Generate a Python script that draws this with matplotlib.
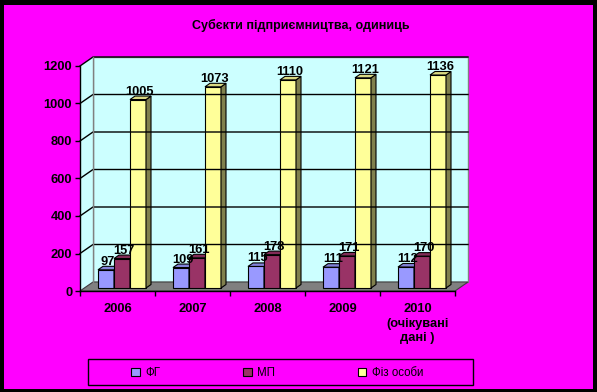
import numpy as np
import matplotlib
matplotlib.use('Agg')
import matplotlib.pyplot as plt
from matplotlib.patches import Rectangle, Polygon, Patch
from matplotlib.lines import Line2D
from matplotlib.transforms import ScaledTranslation, IdentityTransform

plt.rcParams['font.family'] = ['Liberation Sans', 'DejaVu Sans']

# дані
years = ['2006', '2007', '2008', '2009', '2010\n(очікувані\nдані )']
fg = [97, 109, 115, 111, 112]
mp = [157, 161, 178, 171, 170]
fiz = [1005, 1073, 1110, 1121, 1136]
names = ['ФГ', 'МП', 'Фіз особи']
colors = ['#9999FF', '#993366', '#FFFF99']
yticks = [0, 200, 400, 600, 800, 1000, 1200]

W, H = 597, 392
fig = plt.figure(figsize=(W / 100, H / 100), dpi=100, facecolor='black')
fig.add_artist(Rectangle((4 / W, 3 / H), 589 / W, 384 / H, transform=fig.transFigure,
                         facecolor='#FF00FF', edgecolor='none', zorder=-5))

ax = fig.add_axes([80 / W, (H - 291) / H, 375 / W, 225 / H])
ax.set_xlim(-0.5, 4.5)
ax.set_ylim(0, 1200)
ax.patch.set_visible(False)
for s in ['top', 'right']:
    ax.spines[s].set_visible(False)
for s in ['left', 'bottom']:
    ax.spines[s].set_color('black')
    ax.spines[s].set_linewidth(1)
    ax.spines[s].set_zorder(10)

ax.set_yticks(yticks)
ax.set_yticklabels([str(t) for t in yticks], fontsize=9.3, fontweight='bold')
ax.tick_params(axis='y', length=3.6, pad=2, width=1)
ax.set_xticks(np.arange(-0.5, 5, 1))
ax.set_xticklabels([])
ax.set_xticks(range(5), minor=True)
ax.set_xticklabels(years, minor=True, fontsize=9.3, fontweight='bold', linespacing=1.25)
ax.tick_params(axis='x', which='major', length=3.6, width=1)
ax.tick_params(axis='x', which='minor', length=0, pad=9)


def px(x, y, dx=0, dy=0):
    X, Y = ax.transData.transform((x, y))
    return (X + dx, Y + dy)


ident = IdentityTransform()
DX, DY = 13, 9
wall = '#CCFFFF'

# стінки і підлога
ax.add_patch(Polygon([px(-0.5, 0, DX, DY), px(4.5, 0, DX, DY), px(4.5, 1200, DX, DY),
                      px(-0.5, 1200, DX, DY)], closed=True, transform=ident,
                     facecolor=wall, edgecolor='#808080', lw=1, clip_on=False))
ax.add_patch(Polygon([px(-0.5, 0), px(-0.5, 0, DX, DY), px(-0.5, 1200, DX, DY),
                      px(-0.5, 1200)], closed=True, transform=ident,
                     facecolor=wall, edgecolor='none', clip_on=False))
for t in yticks[1:]:
    pts = [px(-0.5, t), px(-0.5, t, DX, DY), px(4.5, t, DX, DY)]
    ax.add_line(Line2D([p[0] for p in pts], [p[1] for p in pts], transform=ident,
                       color='black', lw=1, clip_on=False))
p0, p1 = px(-0.5, 0, DX, DY), px(-0.5, 1200, DX, DY)
ax.add_line(Line2D([p0[0], p1[0]], [p0[1], p1[1]], transform=ident,
                   color='#808080', lw=1, clip_on=False))
ax.add_patch(Polygon([px(-0.5, 0), px(4.5, 0), px(4.5, 0, DX, DY), px(-0.5, 0, DX, DY)],
                     closed=True, transform=ident, facecolor='#808080',
                     edgecolor='#404040', lw=0.8, clip_on=False))

# стовпчики
bw = 16 / 75
sx, sy = 4.5, 3
bx, by = 5, 3.5
shift = ScaledTranslation(sx / 100, sy / 100, fig.dpi_scale_trans)
lab_shift = ScaledTranslation((sx + 2) / 100, (sy + 5) / 100, fig.dpi_scale_trans)
for k, vals in enumerate([fg, mp, fiz]):
    c = np.array(matplotlib.colors.to_rgb(colors[k]))
    xs = np.arange(5) + (k - 1) * bw
    bars = ax.bar(xs, vals, bw, color=colors[k], edgecolor='black', lw=0.8)
    for i, b in enumerate(bars):
        b.set_transform(ax.transData + shift)
        b.set_clip_on(False)
        xl, xr, v = xs[i] - bw / 2, xs[i] + bw / 2, vals[i]
        ax.add_patch(Polygon([px(xr, 0, sx, sy), px(xr, 0, sx + bx, sy + by),
                              px(xr, v, sx + bx, sy + by), px(xr, v, sx, sy)],
                             closed=True, transform=ident, facecolor=c * 0.5,
                             edgecolor='black', lw=0.8, clip_on=False))
        ax.add_patch(Polygon([px(xl, v, sx, sy), px(xr, v, sx, sy),
                              px(xr, v, sx + bx, sy + by), px(xl, v, sx + bx, sy + by)],
                             closed=True, transform=ident, facecolor=c * 0.85,
                             edgecolor='black', lw=0.8, clip_on=False))
    for i, v in enumerate(vals):
        ax.text(xs[i], v, str(v), transform=ax.transData + lab_shift, ha='center',
                va='baseline', fontsize=9.3, fontweight='bold', zorder=20, clip_on=False)

# заголовок
fig.text(301 / W, 1 - 25 / H, 'Субєкти підприємництва, одиниць', ha='center', va='center',
         fontsize=9, fontweight='bold')

# легенда
fig.add_artist(Rectangle((88 / W, 1 - 385 / H), 385 / W, 26 / H, transform=fig.transFigure,
                         facecolor='none', edgecolor='black', lw=1))
handles = [Patch(facecolor=colors[k], edgecolor='black', lw=0.8) for k in range(3)]
fig.legend(handles, names, loc='center', bbox_to_anchor=(277 / W, 1 - 373 / H), ncol=3,
           frameon=False, fontsize=8.3, handlelength=0.75, handleheight=0.75,
           handletextpad=0.45, columnspacing=7.2)

fig.savefig('out.png', dpi=100, facecolor=fig.get_facecolor())
